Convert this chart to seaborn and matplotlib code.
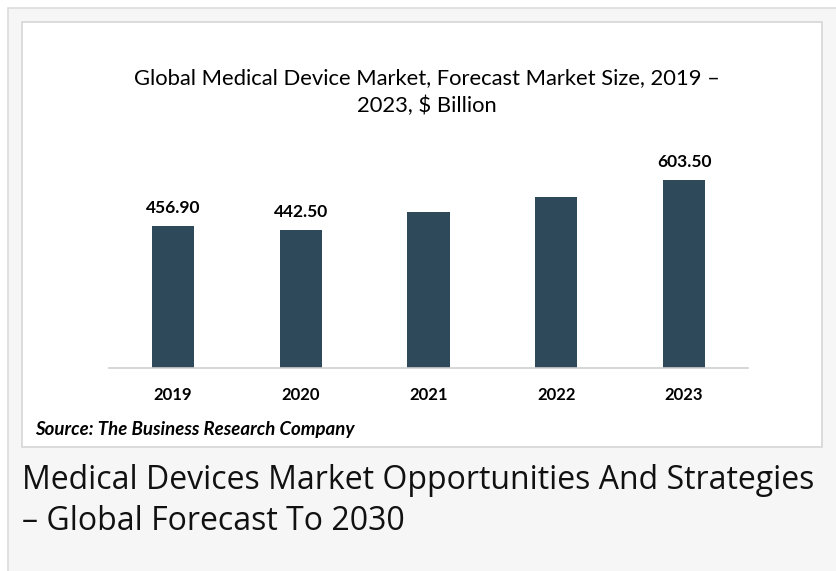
import seaborn as sns
import matplotlib.pyplot as plt
import matplotlib.patches as mpatches
import pandas as pd

# Values (2021 and 2022 are unlabeled)
years = ['2019', '2020', '2021', '2022', '2023']
market_size = [456.90, 442.50, 500.3, 550.3, 603.50]
labelled = [True, True, False, False, True]

chart_title = 'Global Medical Device Market, Forecast Market Size, 2019 –\n2023, $ Billion'
source_text = 'Source: The Business Research Company'
caption = 'Medical Devices Market Opportunities And Strategies\n– Global Forecast To 2030'

df = pd.DataFrame({'year': years, 'size': market_size})

W, H = 836, 571
fig = plt.figure(figsize=(W / 100, H / 100), dpi=100)
fig.patch.set_facecolor('white')

# Outer grey card and inner white chart panel (pixel coords -> figure fractions)
def px_rect(x0, y0, x1, y1, **kw):
    return mpatches.Rectangle((x0 / W, 1 - y1 / H), (x1 - x0) / W, (y1 - y0) / H,
                              transform=fig.transFigure, zorder=-5, **kw)

fig.patches.append(px_rect(8, 8, 840, 580, facecolor='#f6f6f6', edgecolor='#dcdcdc', linewidth=1.2))
fig.patches.append(px_rect(22, 22, 822, 447, facecolor='white', edgecolor='#d6d6d6', linewidth=1.2))

# Bar axes
ax = fig.add_axes([109 / W, 1 - 368 / H, (748 - 109) / W, (368 - 140) / H])
ax.set_facecolor('none')
sns.barplot(data=df, x='year', y='size', color='#2e4a5a', width=0.33, ax=ax,
            saturation=1, edgecolor='none')
ax.set_ylim(0, 732)
ax.set_xlim(-0.5, 4.5)

# Data labels only on the bars that carry them in the original
for i, (v, show) in enumerate(zip(market_size, labelled)):
    if show:
        ax.annotate(f'{v:.2f}', xy=(i, v), xytext=(0, 13), textcoords='offset points',
                    ha='center', va='center', fontsize=12.5, fontweight='bold',
                    family='Lato', color='black')

ax.set_xlabel('')
ax.set_ylabel('')
ax.set_yticks([])
ax.tick_params(axis='x', length=0, pad=14)
for lbl in ax.get_xticklabels():
    lbl.set_fontweight('bold')
    lbl.set_fontsize(12)
    lbl.set_family('Lato')
for side in ['top', 'right', 'left']:
    ax.spines[side].set_visible(False)
ax.spines['bottom'].set_color('#cfcfcf')
ax.spines['bottom'].set_linewidth(1.2)

# Texts
fig.text(427 / W, 1 - 92 / H, chart_title, ha='center', va='center', fontsize=15.8,
         family='Lato', color='black', linespacing=1.45)
fig.text(35 / W, 1 - 430 / H, source_text, ha='left', va='center', fontsize=13.4,
         family='Lato', fontweight='bold', style='italic', color='black')
fig.text(22 / W, 1 - 501 / H, caption, ha='left', va='center', fontsize=23,
         family='Open Sans', color='#111111', linespacing=1.32)

plt.savefig('out.png', dpi=100)
